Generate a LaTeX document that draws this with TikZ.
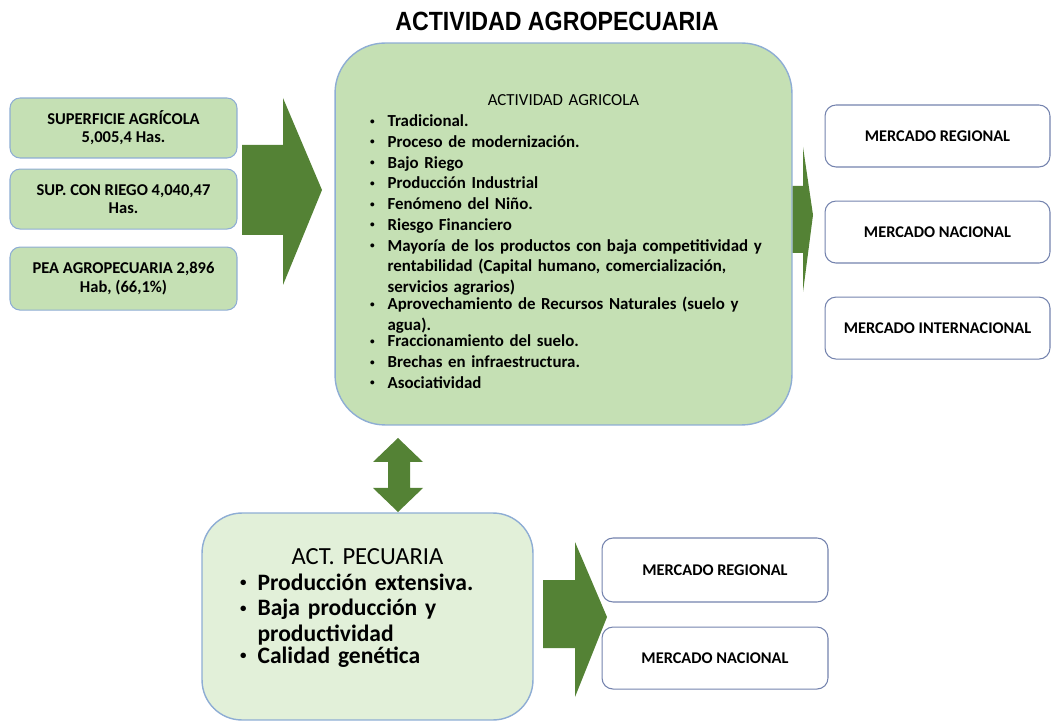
\documentclass[tikz,border=0pt]{standalone}
\usepackage{fontspec}
\setmainfont{Carlito}
\newfontfamily\titlefont{Liberation Sans}
\usepackage{xcolor}
\usepackage{tikz}
\usetikzlibrary{positioning, calc}

\definecolor{verdeclaro}{HTML}{C5E0B4}
\definecolor{verdepalido}{HTML}{E2F0D9}
\definecolor{verdeflecha}{HTML}{548235}
\definecolor{bordeverde}{HTML}{8EADD4}
\definecolor{bordeblanco}{HTML}{7483AE}

\newcommand{\punto}[1]{\par\noindent\makebox[10pt][l]{\raisebox{0.15em}{\scalebox{0.55}{\textbullet}}}%
    \parbox[t]{\hsize}{\raggedright #1}}

\begin{document}
\begin{tikzpicture}[x=0.02cm, y=-0.02cm,
    datobox/.style={rectangle, draw=bordeverde, line width=0.6pt, fill=verdeclaro, rounded corners=0.2cm,
        minimum width=4.54cm, minimum height=1.2cm, align=center, font=\bfseries\fontsize{9.4}{10.3}\selectfont},
    mercado/.style={rectangle, draw=bordeblanco, line width=0.6pt, fill=white, rounded corners=0.22cm,
        minimum width=4.5cm, minimum height=1.24cm, align=center, font=\bfseries\fontsize{9.3}{11}\selectfont},
    flecha/.style={fill=verdeflecha}]

    \useasboundingbox (0,0) rectangle (1051,722);

    \node (Titulo) at (557,21) {\titlefont\bfseries\fontsize{15}{18}\selectfont\scalebox{0.88}[1]{ACTIVIDAD AGROPECUARIA}};

    \node (SupAgricola) [datobox] at (123.5,128) {SUPERFICIE AGRÍCOLA\\5,005,4 Has.};
    \node (SupRiego) [datobox, below=0.2cm of SupAgricola] {SUP. CON RIEGO 4,040,47\\Has.};
    \node (Pea) [datobox, minimum height=1.26cm, below=0.34cm of SupRiego] {PEA AGROPECUARIA 2,896\\Hab, (66,1\%)};

    \node (Agricola) [rectangle, draw=bordeverde, line width=0.8pt, fill=verdeclaro, rounded corners=1cm,
        minimum width=9.14cm, minimum height=7.64cm, text width=7.74cm, inner sep=0pt, align=left,
        font=\bfseries\fontsize{9.6}{11.8}\selectfont] at (563.5,234)
        {{\centering\mdseries\rule{0pt}{15pt}ACTIVIDAD AGRICOLA\par}
        \punto{Tradicional.}
        \punto{Proceso de modernización.}
        \punto{Bajo Riego}
        \punto{Producción Industrial}
        \punto{Fenómeno del Niño.}
        \punto{Riesgo Financiero}
        \punto{Mayoría de los productos con baja competitividad y\\rentabilidad (Capital humano, comercialización,\\servicios agrarios)}
        \punto{Aprovechamiento de Recursos Naturales (suelo y\\agua).}
        \punto{Fraccionamiento del suelo.}
        \punto{Brechas en infraestructura.}
        \punto{Asociatividad}};

    \node (MerRegional) [mercado] at (937.5,136) {MERCADO REGIONAL};
    \node (MerNacional) [mercado, below=0.66cm of MerRegional] {MERCADO NACIONAL};
    \node (MerInter) [mercado, below=0.66cm of MerNacional] {MERCADO INTERNACIONAL};

    \node (Pecuaria) [rectangle, draw=bordeverde, line width=0.8pt, fill=verdepalido, rounded corners=0.8cm,
        minimum width=6.62cm, minimum height=4.14cm, text width=5.1cm, inner sep=0pt, align=left,
        font=\bfseries\fontsize{13.4}{14.5}\selectfont] at (367.5,616.5)
        {{\centering\mdseries\fontsize{14}{14.5}\selectfont ACT. PECUARIA\par}
        \punto{Producción extensiva.}
        \punto{Baja producción y\\productividad}
        \punto{Calidad genética\rule[-12pt]{0pt}{12pt}}};

    \node (BajoRegional) [mercado, minimum width=4.52cm, minimum height=1.28cm] at (715,570) {MERCADO REGIONAL};
    \node (BajoNacional) [mercado, minimum width=4.52cm, below=0.48cm of BajoRegional] {MERCADO NACIONAL};

    \fill[flecha] (242,145) -- (283,145) -- (283,98) -- (322,190) -- (283,285) -- (283,235) -- (242,235) -- cycle;
    \fill[flecha] (Agricola.east |- 0,186) -- (803,186) -- (803,147) -- (813,215) -- (803,292) -- (803,253) -- (Agricola.east |- 0,253) -- cycle;
    \fill[flecha] (398,438) -- (423,462) -- (410,462) -- (410,488) -- (423,488) -- (398,512) -- (373,488) -- (388,488) -- (388,462) -- (373,462) -- cycle;
    \fill[flecha] (543,580) -- (575,580) -- (575,542) -- (607,617) -- (575,697) -- (575,648) -- (543,648) -- cycle;
\end{tikzpicture}
\end{document}
